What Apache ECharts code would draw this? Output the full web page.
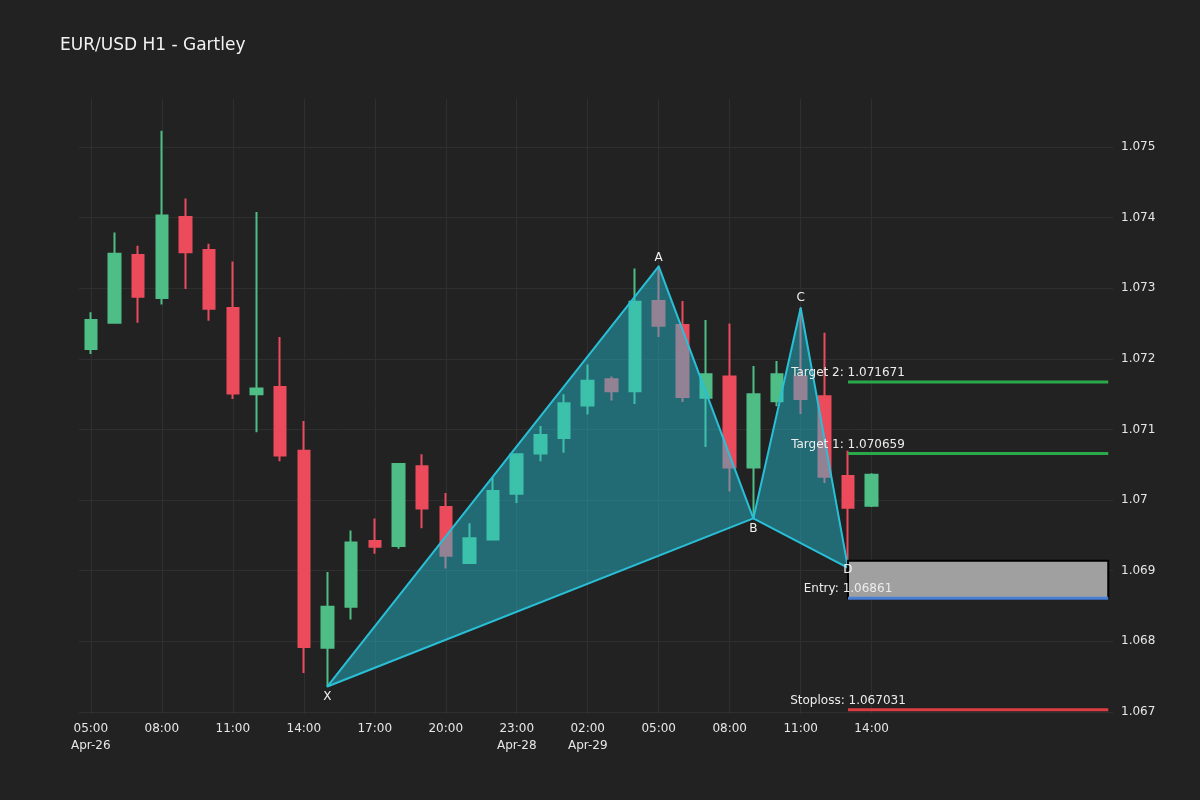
<!DOCTYPE html>
<html>
<head>
<meta charset="utf-8">
<title>EUR/USD H1 - Gartley</title>
<script src="https://cdn.jsdelivr.net/npm/echarts@6/dist/echarts.min.js"></script>
<style>
  html, body { margin: 0; padding: 0; background: #222222; }
  #main { width: 1200px; height: 800px; }
</style>
</head>
<body>
<div id="main"></div>
<script>
// hourly bars, weekend gap is skipped so x is just the bar index
var hours = ['05:00','06:00','07:00','08:00','09:00','10:00','11:00','12:00','13:00','14:00',
             '15:00','16:00','17:00','18:00','19:00','20:00','21:00','22:00','23:00',
             '00:00','01:00','02:00','03:00','04:00','05:00','06:00','07:00','08:00','09:00',
             '10:00','11:00','12:00','13:00','14:00'];
var days = ['Apr-26','Apr-26','Apr-26','Apr-26','Apr-26','Apr-26','Apr-26','Apr-26','Apr-26','Apr-26',
            'Apr-26','Apr-26','Apr-26','Apr-26','Apr-26','Apr-26','Apr-26','Apr-26','Apr-28',
            'Apr-29','Apr-29','Apr-29','Apr-29','Apr-29','Apr-29','Apr-29','Apr-29','Apr-29','Apr-29',
            'Apr-29','Apr-29','Apr-29','Apr-29','Apr-29'];

var opens  = [1.07214,1.07251,1.07347,1.07286,1.07401,1.07354,1.07272,1.07150,1.07160,1.07070,
              1.06791,1.06849,1.06942,1.06935,1.07048,1.06990,1.06911,1.06944,1.07009,
              1.07066,1.07088,1.07134,1.07171,1.07154,1.07282,1.07248,1.07145,1.07175,1.07046,
              1.07140,1.07175,1.07147,1.07034,1.06992];
var closes = [1.07255,1.07349,1.07288,1.07403,1.07351,1.07271,1.07151,1.07158,1.07063,1.06792,
              1.06849,1.06940,1.06934,1.07051,1.06988,1.06921,1.06946,1.07013,1.07065,
              1.07092,1.07137,1.07169,1.07154,1.07281,1.07247,1.07146,1.07178,1.07046,1.07150,
              1.07178,1.07143,1.07033,1.06989,1.07036];
var lows   = [1.07207,1.07250,1.07251,1.07277,1.07299,1.07254,1.07143,1.07096,1.07055,1.06755,
              1.06736,1.06831,1.06924,1.06931,1.06960,1.06903,1.06911,1.06943,1.06996,
              1.07055,1.07067,1.07121,1.07141,1.07136,1.07231,1.07139,1.07075,1.07012,1.06974,
              1.07133,1.07122,1.07024,1.06904,1.06990];
var highs  = [1.07266,1.07379,1.07360,1.07523,1.07427,1.07363,1.07338,1.07408,1.07231,1.07112,
              1.06898,1.06957,1.06974,1.07051,1.07065,1.07010,1.06967,1.07032,1.07066,
              1.07105,1.07150,1.07192,1.07175,1.07328,1.07331,1.07282,1.07255,1.07250,1.07190,
              1.07197,1.07272,1.07237,1.07070,1.07038];

// XABCD points
var patternNames = ['X','A','B','C','D'];
var patternIdx   = [10, 24, 28, 30, 32];
var patternPrice = [1.06736, 1.07331, 1.06974, 1.07272, 1.06904];

// trade levels
var levelNames  = ['Target 2', 'Target 1', 'Entry', 'Stoploss'];
var levelValues = [1.071671, 1.070659, 1.06861, 1.067031];
var levelColors = ['#2aa84a', '#2aa84a', '#4a7fd6', '#dc3c44'];
var levelStart = 32, levelEnd = 43;
var zoneTop = 1.06914;

var xTicks = [0, 3, 6, 9, 12, 15, 18, 21, 24, 27, 30, 33];
var yTicks = [1.067, 1.068, 1.069, 1.07, 1.071, 1.072, 1.073, 1.074, 1.075];

var UP = '#4fbd86', DOWN = '#ec4b5c';
var FONT = 'DejaVu Sans';

var candleData = hours.map(function (h, i) {
  return [i, opens[i], closes[i], lows[i], highs[i]];
});

var chart = echarts.init(document.getElementById('main'));

var option = {
  backgroundColor: '#222222',
  animation: false,
  title: {
    text: 'EUR/USD H1 - Gartley',
    left: 55, top: 32,
    textStyle: { color: '#f2f2f2', fontSize: 17, fontWeight: 'normal', fontFamily: FONT }
  },
  grid: { left: 79, right: 87, top: 99, bottom: 86 },
  xAxis: {
    type: 'value', min: -0.5, max: 43.2,
    axisLine: { show: false },
    axisTick: { show: false, customValues: xTicks },
    axisLabel: {
      customValues: xTicks,
      color: '#e6e6e6', fontSize: 12, fontFamily: FONT, margin: 6, lineHeight: 17,
      formatter: function (v) {
        var i = Math.round(v);
        var prev = i - 3;
        if (i === 0 || (prev >= 0 && days[prev] !== days[i])) return hours[i] + '\n' + days[i];
        return hours[i];
      }
    },
    splitLine: { show: true, lineStyle: { color: '#2f2f2f', width: 1 } }
  },
  yAxis: {
    type: 'value', position: 'right', min: 1.06697, max: 1.07568, scale: true,
    axisLine: { show: false },
    axisTick: { show: false, customValues: yTicks },
    axisLabel: {
      customValues: yTicks,
      color: '#e6e6e6', fontSize: 12, fontFamily: FONT, margin: 8,
      formatter: function (v) { return String(parseFloat(v.toFixed(3))); }
    },
    splitLine: { show: true, lineStyle: { color: '#2f2f2f', width: 1 } }
  },
  series: [
    {
      type: 'candlestick',
      data: candleData,
      encode: { x: 0, y: [1, 2, 3, 4] },
      barWidth: 12,
      itemStyle: { color: UP, color0: DOWN, borderColor: UP, borderColor0: DOWN, borderWidth: 2 },
      z: 2
    },
    {
      // pattern triangles X-A-B and B-C-D
      type: 'custom',
      data: [[patternIdx[0], patternPrice[0]]],
      encode: { x: 0, y: 1 },
      z: 3,
      silent: true,
      renderItem: function (params, api) {
        var pts = patternIdx.map(function (x, i) { return api.coord([x, patternPrice[i]]); });
        function tri(a, b, c) {
          return {
            type: 'polygon',
            shape: { points: [pts[a], pts[b], pts[c]] },
            style: { fill: 'rgba(38,198,218,0.45)', stroke: '#29bfd6', lineWidth: 2, lineJoin: 'round' }
          };
        }
        return { type: 'group', children: [tri(0, 1, 2), tri(2, 3, 4)] };
      }
    },
    {
      // entry zone
      type: 'custom',
      data: [[levelStart, zoneTop]],
      encode: { x: 0, y: 1 },
      z: 4,
      silent: true,
      renderItem: function (params, api) {
        var p1 = api.coord([levelStart, zoneTop]);
        var p2 = api.coord([levelEnd, levelValues[2]]);
        return {
          type: 'rect',
          shape: { x: p1[0], y: p1[1], width: p2[0] - p1[0], height: p2[1] - p1[1] },
          style: { fill: '#a0a0a0', stroke: '#000000', lineWidth: 2 }
        };
      }
    },
    {
      // level lines with labels
      type: 'custom',
      data: levelValues.map(function (v, i) { return [levelStart, v, i]; }),
      encode: { x: 0, y: 1 },
      z: 5,
      silent: true,
      renderItem: function (params, api) {
        var i = params.dataIndex;
        var a = api.coord([levelStart, levelValues[i]]);
        var b = api.coord([levelEnd, levelValues[i]]);
        return {
          type: 'group',
          children: [
            { type: 'line', shape: { x1: a[0], y1: a[1], x2: b[0], y2: b[1] },
              style: { stroke: levelColors[i], lineWidth: 3 } },
            { type: 'text', x: a[0], y: a[1] - 3,
              style: { text: levelNames[i] + ': ' + levelValues[i], fill: '#ececec',
                       font: '12px "' + FONT + '"', align: 'center', verticalAlign: 'bottom' } }
          ]
        };
      }
    },
    {
      // point letters
      type: 'custom',
      data: patternIdx.map(function (x, i) { return [x, patternPrice[i]]; }),
      encode: { x: 0, y: 1 },
      z: 6,
      silent: true,
      renderItem: function (params, api) {
        var i = params.dataIndex;
        var p = api.coord([patternIdx[i], patternPrice[i]]);
        var dy = [10, -8, 10, -10, 2][i];
        return {
          type: 'text', x: p[0], y: p[1] + dy,
          style: { text: patternNames[i], fill: '#f2f2f2', font: '12px "' + FONT + '"',
                   align: 'center', verticalAlign: 'middle' }
        };
      }
    }
  ]
};

chart.setOption(option);
</script>
</body>
</html>
